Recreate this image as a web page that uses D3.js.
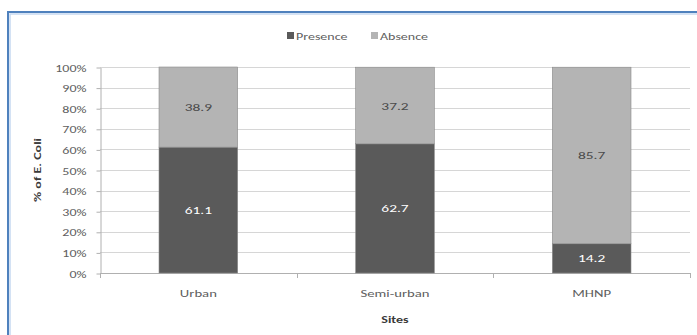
<!DOCTYPE html>
<html>
<head>
<meta charset="utf-8">
<script src="https://cdn.jsdelivr.net/npm/d3@7"></script>
<style>
  body { margin: 0; background: #fff; }
  text { font-family: Carlito, Lato, "Open Sans", sans-serif; }
</style>
</head>
<body>
<svg id="chart" width="697" height="335"></svg>
<script>
const sites = ['Urban', 'Semi-urban', 'MHNP']
const presence = [61.1, 62.7, 14.2]
const absence = [38.9, 37.2, 85.7]
const seriesNames = ['Presence', 'Absence']
const seriesColors = ['#5a5a5a', '#b4b4b4']
const labelColors = ['#ffffff', '#4a4a4a']
const yTicks = [0, 10, 20, 30, 40, 50, 60, 70, 80, 90, 100]

const stretch = 1.4 // the source picture is widened, so text runs wide

const svg = d3.select('#chart')

// outer frame
svg.append('rect')
  .attr('x', 8).attr('y', 12)
  .attr('width', 700).attr('height', 340)
  .attr('fill', 'none')
  .attr('stroke', '#4f81bd')
  .attr('stroke-width', 2)
svg.append('rect')
  .attr('x', 10).attr('y', 14)
  .attr('width', 700).attr('height', 340)
  .attr('fill', 'none')
  .attr('stroke', '#c6d9f1')
  .attr('stroke-width', 1.5)

const x = d3.scaleBand()
  .domain(sites)
  .range([100, 690])
  .paddingInner(0.6)
  .paddingOuter(0.3)

const y = d3.scaleLinear()
  .domain([0, 100])
  .range([273, 67])

// gridlines
svg.append('g')
  .selectAll('line')
  .data(yTicks)
  .join('line')
  .attr('x1', 100).attr('x2', 690)
  .attr('y1', d => Math.round(y(d)) + 0.5)
  .attr('y2', d => Math.round(y(d)) + 0.5)
  .attr('stroke', '#d6d6d6')
  .attr('stroke-width', 1.2)

// y axis
const yAxis = svg.append('g')
  .attr('transform', 'translate(100.5,0.5)')
  .call(d3.axisLeft(y).tickValues(yTicks).tickSize(4).tickSizeOuter(0).tickFormat(d => d + '%'))
yAxis.select('.domain').attr('stroke', '#b0b0b0')
yAxis.selectAll('.tick line').attr('stroke', '#b0b0b0')
yAxis.selectAll('.tick text')
  .attr('x', null)
  .attr('dy', null)
  .attr('transform', `translate(-14,3.5) scale(${stretch},1)`)
  .attr('fill', '#606060')
  .attr('font-size', 10)

// x axis
const xAxisG = svg.append('g')
xAxisG.append('line')
  .attr('x1', 100).attr('x2', 690)
  .attr('y1', 273.5).attr('y2', 273.5)
  .attr('stroke', '#b0b0b0')
xAxisG.selectAll('.xtick')
  .data(d3.range(sites.length + 1))
  .join('line')
  .attr('class', 'xtick')
  .attr('x1', i => Math.round(x.range()[0] + i * x.step()) + 0.5)
  .attr('x2', i => Math.round(x.range()[0] + i * x.step()) + 0.5)
  .attr('y1', 273).attr('y2', 278)
  .attr('stroke', '#b0b0b0')
xAxisG.selectAll('.xlabel')
  .data(sites)
  .join('text')
  .attr('class', 'xlabel')
  .attr('transform', d => `translate(${x(d) + x.bandwidth() / 2},297) scale(${stretch},1)`)
  .attr('text-anchor', 'middle')
  .attr('fill', '#606060')
  .attr('font-size', 10.5)
  .text(d => d)

// axis titles
svg.append('text')
  .attr('transform', `translate(395,323) scale(${stretch},1)`)
  .attr('text-anchor', 'middle')
  .attr('font-size', 10)
  .attr('font-weight', 'bold')
  .attr('fill', '#3a3a3a')
  .text('Sites')
svg.append('text')
  .attr('transform', `translate(41,170) rotate(-90) scale(${stretch},1)`)
  .attr('text-anchor', 'middle')
  .attr('font-size', 10)
  .attr('font-weight', 'bold')
  .attr('fill', '#3a3a3a')
  .text('% of E. Coli')

// stacked bars
const rows = sites.map((s, i) => ({ site: s, Presence: presence[i], Absence: absence[i] }))
const stacked = d3.stack().keys(seriesNames)(rows)

const layers = svg.append('g')
  .selectAll('g')
  .data(stacked)
  .join('g')
  .attr('fill', (_, i) => seriesColors[i])

layers.selectAll('rect')
  .data(d => d)
  .join('rect')
  .attr('x', d => x(d.data.site))
  .attr('width', x.bandwidth())
  .attr('y', d => y(d[1]))
  .attr('height', d => y(d[0]) - y(d[1]))
  .attr('stroke', '#8a8a8a')
  .attr('stroke-width', 0.6)

layers.each(function (layer, li) {
  d3.select(this).selectAll('text')
    .data(layer)
    .join('text')
    .attr('transform', d => `translate(${x(d.data.site) + x.bandwidth() / 2},${(y(d[0]) + y(d[1])) / 2 + 4}) scale(${stretch},1)`)
    .attr('text-anchor', 'middle')
    .attr('font-size', 11)
    .attr('fill', labelColors[li])
    .text(d => d.data[layer.key].toFixed(1))
})

// legend
const legend = svg.append('g').attr('transform', 'translate(287,32)')
const legendX = [0, 84]
seriesNames.forEach((name, i) => {
  const g = legend.append('g').attr('transform', `translate(${legendX[i]},0)`)
  g.append('rect')
    .attr('width', 7).attr('height', 7)
    .attr('fill', seriesColors[i])
  g.append('text')
    .attr('transform', `translate(9,7.5) scale(${stretch},1)`)
    .attr('font-size', 10)
    .attr('fill', '#606060')
    .text(name)
})
</script>
</body>
</html>
